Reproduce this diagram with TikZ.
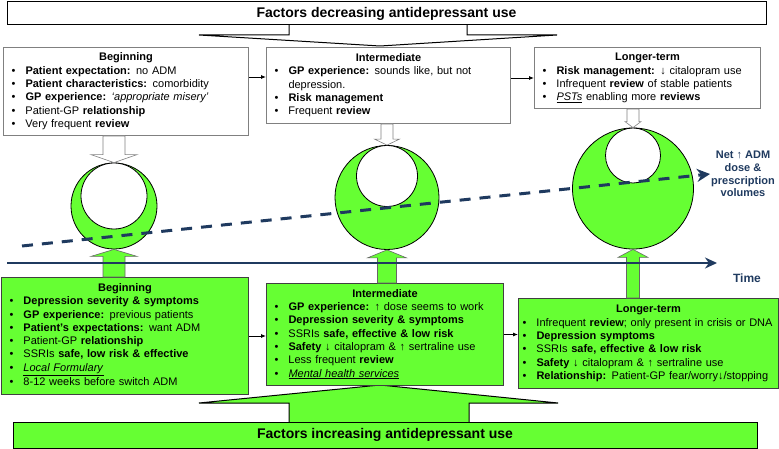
\documentclass[tikz,border=0pt]{standalone}
\usepackage{fontspec}
\setmainfont{Liberation Sans}
\usepackage{tikz}
\usetikzlibrary{arrows.meta,calc}

\definecolor{admgreen}{HTML}{66FF33}
\definecolor{admnavy}{HTML}{1F3A5F}

% bullet line inside a factor box
\newcommand{\bul}[1]{\par\noindent\strut\makebox[16pt][l]{\hspace{2pt}\textbullet}\mbox{#1}\par}
\newcommand{\bulcont}[1]{\par\noindent\strut\hspace{16pt}\mbox{#1}\par}
\newcommand{\boxtitle}[1]{{\centering\noindent\strut\textbf{#1}\par}}

% block arrows: style, from, to, stem half, head half, head length
\newcommand{\downblock}[6]{%
	\path[#1] let \p1=(#2), \p2=(#3) in
	(\x2-#4,\y1) -- (\x2-#4,\y2+#6) -- (\x2-#5,\y2+#6) -- (\x2,\y2)
	-- (\x2+#5,\y2+#6) -- (\x2+#4,\y2+#6) -- (\x2+#4,\y1) -- cycle;}
\newcommand{\upblock}[6]{%
	\path[#1] let \p1=(#2), \p2=(#3) in
	(\x2-#4,\y1) -- (\x2-#4,\y2-#6) -- (\x2-#5,\y2-#6) -- (\x2,\y2)
	-- (\x2+#5,\y2-#6) -- (\x2+#4,\y2-#6) -- (\x2+#4,\y1) -- cycle;}

\tikzset{
	factorbox/.style={anchor=north west, inner xsep=6pt, inner ysep=4pt, line width=1pt,
		font={\fontsize{11}{13.3}\selectfont\parskip=0pt}},
	decbox/.style={factorbox, draw=gray, fill=white},
	incbox/.style={factorbox, draw=black!75, fill=admgreen},
	banner/.style={draw=black, line width=1pt, font=\fontsize{14}{16}\selectfont\bfseries},
	boxarrow/.style={-{Latex[length=5pt,width=4pt]}, line width=0.8pt},
	hollowarrow/.style={draw=gray, fill=white, line width=0.6pt},
	greenarrow/.style={draw=gray!80!black, fill=admgreen, line width=0.6pt},
	outer/.style={circle, draw=black, fill=admgreen, line width=0.8pt, inner sep=0pt},
	inner/.style={circle, draw=black, fill=white, line width=0.8pt, inner sep=0pt, anchor=north}
}

\begin{document}
\begin{tikzpicture}[x=1pt,y=-1pt]
	\useasboundingbox (0,0) rectangle (779,449);
	
	%% -- callout pointers of the two banners
	\filldraw[fill=white, draw=black, line width=1pt]
	(289,25) -- (289,35) -- (199,35) -- (380,46) -- (557,35) -- (467,35) -- (467,25);
	\filldraw[fill=admgreen, draw=black, line width=1pt]
	(289,422) -- (289,403) -- (199,403) -- (380,385) -- (558,403) -- (469,403) -- (469,422);
	
	%% -- banners
	\node[banner, fill=white, minimum width=759pt, minimum height=23pt] (dec) at (386.5,13.5)
	{Factors decreasing antidepressant use};
	\node[banner, fill=admgreen, minimum width=744pt, minimum height=26pt] (inc) at (385,435)
	{Factors increasing antidepressant use};
	
	%% -- factors decreasing use
	\node[decbox, text width=233pt, minimum height=88pt] (tb1) at (3,47) {%
		\boxtitle{Beginning}
		\bul{\textbf{Patient expectation:} no ADM}
		\bul{\textbf{Patient characteristics:} comorbidity}
		\bul{\textbf{GP experience:} \textit{`appropriate misery'}}
		\bul{Patient-GP \textbf{relationship}}
		\bul{Very frequent \textbf{review}}};
	
	\node[decbox, text width=232pt, minimum height=76pt] (tb2) at (266,47) {%
		\boxtitle{Intermediate}
		\bul{\textbf{GP experience:} sounds like, but not}
		\bulcont{depression.}
		\bul{\textbf{Risk management}}
		\bul{Frequent \textbf{review}}};
	
	\node[decbox, text width=214pt, minimum height=61pt] (tb3) at (534,47) {%
		\boxtitle{Longer-term}
		\bul{\textbf{Risk management:} ↓ citalopram use}
		\bul{Infrequent \textbf{review} of stable patients}
		\bul{\underline{\textit{PSTs}} enabling more \textbf{reviews}}};
	
	%% -- factors increasing use
	\node[incbox, text width=235pt, minimum height=117pt] (bb1) at (1,277) {%
		\boxtitle{Beginning}
		\bul{\textbf{Depression severity \& symptoms}}
		\bul{\textbf{GP experience:} previous patients}
		\bul{\textbf{Patient's expectations:} want ADM}
		\bul{Patient-GP \textbf{relationship}}
		\bul{SSRIs \textbf{safe, low risk \& effective}}
		\bul{\underline{\textit{Local Formulary}}}
		\bul{8-12 weeks before switch ADM}};
	
	\node[incbox, text width=225pt, minimum height=102pt] (bb2) at (266,283) {%
		\boxtitle{Intermediate}
		\bul{\textbf{GP experience:} ↑ dose seems to work}
		\bul{\textbf{Depression severity \& symptoms}}
		\bul{SSRIs \textbf{safe, effective \& low risk}}
		\bul{\textbf{Safety} ↓ citalopram \& ↑ sertraline use}
		\bul{Less frequent \textbf{review}}
		\bul{\underline{\textit{Mental health services}}}};
	
	\node[incbox, inner xsep=2pt, text width=256pt, minimum height=90pt] (bb3) at (518,298) {%
		\boxtitle{Longer-term}
		\bul{Infrequent \textbf{review}; only present in crisis or DNA}
		\bul{\textbf{Depression symptoms}}
		\bul{SSRIs \textbf{safe, effective \& low risk}}
		\bul{\textbf{Safety} ↓ citalopram \& ↑ sertraline use}
		\bul{\textbf{Relationship:} Patient-GP fear/worry↓/stopping}};
	
	%% -- stage arrows
	\draw[boxarrow] ([yshift=-30pt]tb1.north east) -- ([yshift=-30pt]tb1.north east -| tb2.west);
	\draw[boxarrow] ([yshift=-31pt]tb2.north east) -- ([yshift=-31pt]tb2.north east -| tb3.west);
	\draw[boxarrow] (bb1.east) -- (bb1.east -| bb2.west);
	\draw[boxarrow] (bb2.east) -- (bb2.east -| bb3.west);
	
	%% -- balance circles
	\node[outer, minimum size=86pt] (c1) at (114,206) {};
	\node[inner, minimum size=66pt] (i1) at (c1.north) {};
	\node[outer, minimum size=104pt] (c2) at (387,197.5) {};
	\node[inner, minimum size=61pt] (i2) at (c2.north) {};
	\node[outer, minimum size=121pt] (c3) at (633,188.5) {};
	\node[inner, minimum size=55pt] (i3) at (c3.north) {};
	
	%% -- block arrows into the circles
	\downblock{hollowarrow}{tb1.south}{c1.north}{11pt}{23pt}{8pt}
	\downblock{hollowarrow}{tb2.south}{c2.north}{6pt}{12.5pt}{6pt}
	\downblock{hollowarrow}{tb3.south}{c3.north}{6pt}{8pt}{6pt}
	\upblock{greenarrow}{bb1.north}{c1.south}{11pt}{23pt}{7pt}
	\upblock{greenarrow}{bb2.north}{c2.south}{9.5pt}{19.5pt}{8pt}
	\upblock{greenarrow}{bb3.north}{c3.south}{6.5pt}{15pt}{8pt}
	
	%% -- trend and time axis
	\node[font=\fontsize{11}{12.7}\selectfont\bfseries, text=admnavy, align=center,
	inner sep=1pt] (net) at (743,174) {Net ↑ ADM\\dose \&\\prescription\\volumes};
	\coordinate (trend) at (22,246);
	\draw[admnavy, line width=3pt, dash pattern=on 11pt off 9pt,
	-{Stealth[length=13pt,width=13pt]}] (trend) -- (net.west);
	
	\node[font=\fontsize{12}{14}\selectfont\bfseries, text=admnavy] (time) at (747,278) {Time};
	\coordinate (t0) at (7,263);
	\coordinate (t1) at (717,263);
	\draw[admnavy, line width=2.5pt, -{Stealth[length=12pt,width=11pt]}] (t0) -- (t1);
	
\end{tikzpicture}
\end{document}
